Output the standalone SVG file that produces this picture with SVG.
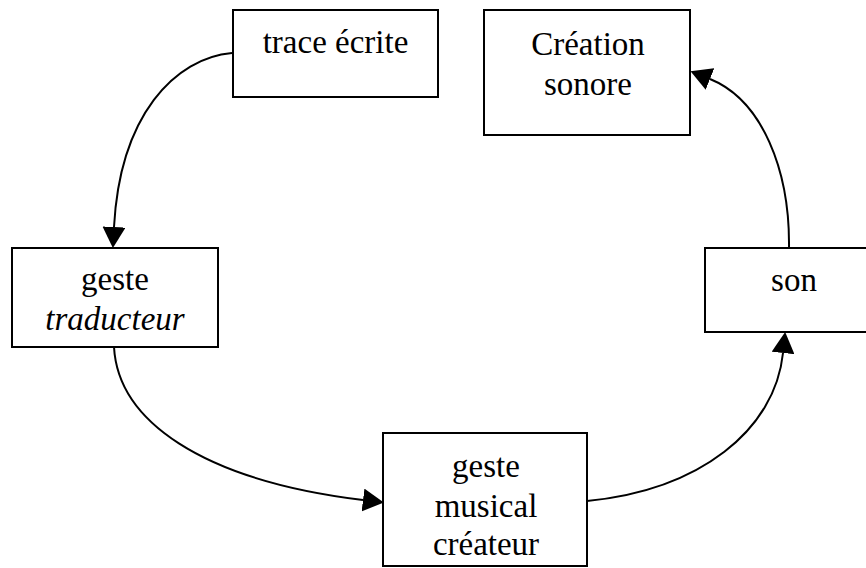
<svg xmlns="http://www.w3.org/2000/svg" width="866" height="568" viewBox="0 0 866 568">
<style>
.box{fill:#fff;stroke:#000;stroke-width:2}
.t{font-family:"Liberation Serif","Times New Roman",serif;font-size:33px;fill:#000;text-anchor:middle}
.it{font-style:italic}
.conn{fill:none;stroke:#000;stroke-width:2}
</style>
<defs>
<marker id="ah" viewBox="0 0 21 23" refX="0" refY="11.5" markerWidth="21" markerHeight="23" markerUnits="userSpaceOnUse" orient="auto">
<path d="M0,0 L21,11.5 L0,23 Z" fill="#000"/>
</marker>
</defs>
<rect width="866" height="568" fill="#fff"/>
<g id="connectors">
<path class="conn" d="M232,53 C175,58 120,115 114,227" marker-end="url(#ah)"/>
<path class="conn" d="M114,347 C118,420 200,480 363,500" marker-end="url(#ah)"/>
<path class="conn" d="M587,501 C700,490 775,430 783,353" marker-end="url(#ah)"/>
<path class="conn" d="M789,248 C790,170 762,100 710,79" marker-end="url(#ah)"/>
</g>
<g id="trace">
<rect class="box" x="233" y="10" width="205" height="87"/>
<text class="t" x="335.5" y="53">trace écrite</text>
</g>
<g id="creation">
<rect class="box" x="484" y="10" width="206" height="125"/>
<text class="t" x="588" y="55">Création</text>
<text class="t" x="588" y="95">sonore</text>
</g>
<g id="traducteur">
<rect class="box" x="12" y="248" width="206" height="99"/>
<text class="t" x="115" y="290">geste</text>
<text class="t it" x="115" y="330">traducteur</text>
</g>
<g id="musical">
<rect class="box" x="383" y="433" width="204" height="133"/>
<text class="t" x="486" y="477">geste</text>
<text class="t" x="486" y="517">musical</text>
<text class="t" x="486" y="555">créateur</text>
</g>
<g id="son">
<rect class="box" x="705" y="248" width="180" height="84"/>
<text class="t" x="794" y="291">son</text>
</g>
</svg>
